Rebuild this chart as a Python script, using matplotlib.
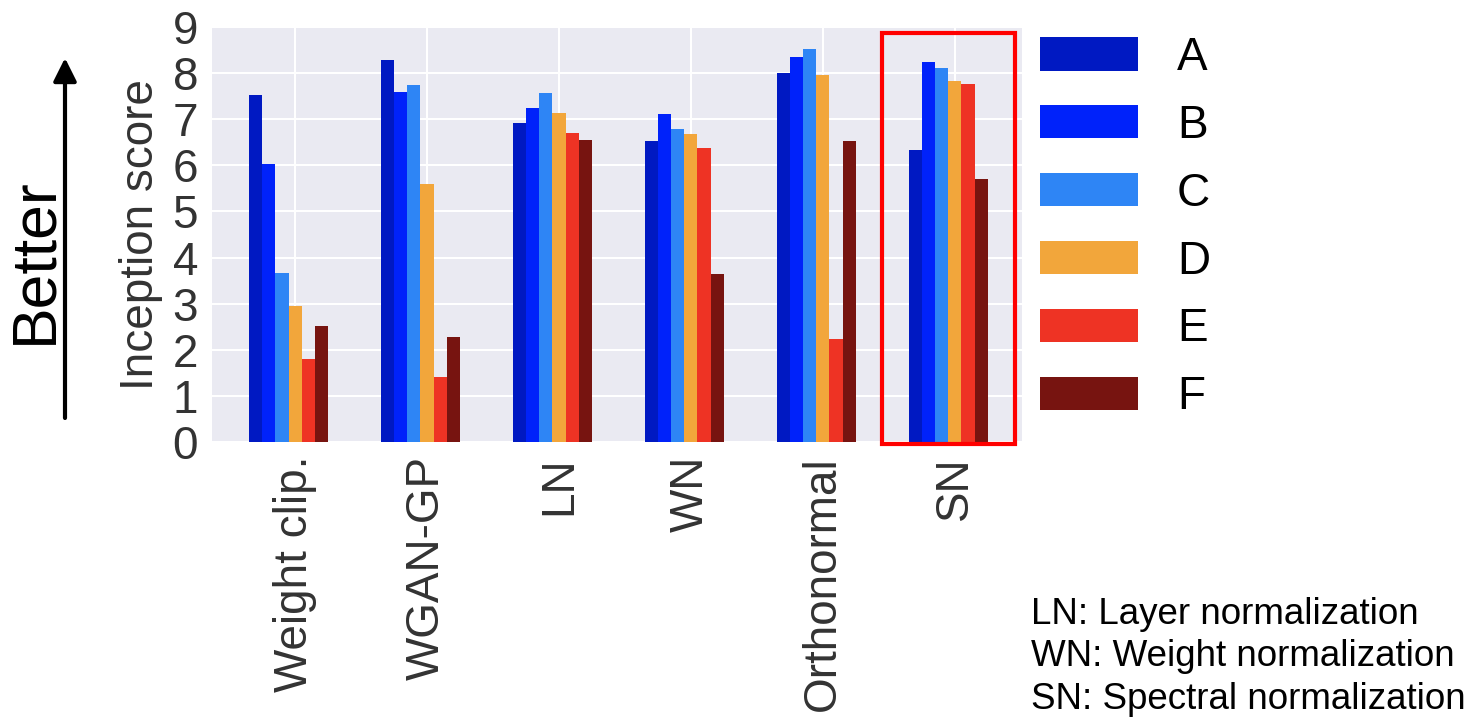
import numpy as np
import matplotlib
matplotlib.use('Agg')
import matplotlib.pyplot as plt
from matplotlib.patches import Rectangle

plt.rcParams['font.family'] = ['Liberation Sans', 'DejaVu Sans']

methods = ['Weight clip.', 'WGAN-GP', 'LN', 'WN', 'Orthonormal', 'SN']
settings = ['A', 'B', 'C', 'D', 'E', 'F']
# inception score per setting, one value per method
score_A = [7.53, 8.29, 6.91, 6.52, 8.00, 6.34]
score_B = [6.02, 7.58, 7.25, 7.12, 8.35, 8.24]
score_C = [3.67, 7.75, 7.57, 6.79, 8.53, 8.12]
score_D = [2.94, 5.60, 7.14, 6.69, 7.95, 7.83]
score_E = [1.81, 1.42, 6.70, 6.38, 2.24, 7.77]
score_F = [2.51, 2.27, 6.54, 3.65, 6.52, 5.70]
scores = [score_A, score_B, score_C, score_D, score_E, score_F]
colors = ['#0019C2', '#0022FA', '#2E85F5', '#F2A63B', '#EE3324', '#771410']

fig = plt.figure(figsize=(14.74, 7.2), dpi=100)
ax = fig.add_axes([212 / 1474, 1 - 442 / 720, 810 / 1474, 415 / 720])
ax.set_facecolor('#EAEAF2')
for s in ax.spines.values():
    s.set_visible(False)
ax.grid(True, color='white', linewidth=1.5)
ax.set_axisbelow(True)

x = np.arange(len(methods))
w = 0.1
for i, (name, vals) in enumerate(zip(settings, scores)):
    ax.bar(x + (i - 3) * w, vals, width=w, color=colors[i], linewidth=0, label=name)

ax.set_xlim(-0.63, 5.51)
ax.set_ylim(0, 9)
ax.set_yticks(range(10))
ax.set_xticks(x)
ax.set_xticklabels(methods, rotation=90)
ax.tick_params(axis='both', length=0, labelsize=33, labelcolor='#333333')
ax.tick_params(axis='y', pad=10)
ax.tick_params(axis='x', pad=10)
ax.set_ylabel('Inception score', fontsize=33, color='#333333')
ax.yaxis.set_label_coords(-0.06, 0.5)

fig.legend(loc='upper left', bbox_to_anchor=(1040 / 1474, 1 - 36 / 720),
           frameon=False, fontsize=33, handlelength=2.14, handleheight=0.74,
           handletextpad=0.85, labelspacing=0.52, borderpad=0, borderaxespad=0)

# highlight box around SN
fig.add_artist(Rectangle((882 / 1474, 1 - 444 / 720), 133 / 1474, 411 / 720,
                         transform=fig.transFigure, fill=False,
                         edgecolor='#FF0000', linewidth=3))

# "Better" arrow
ax.annotate('', xy=(65, 720 - 58), xytext=(65, 720 - 418),
            xycoords='figure pixels', textcoords='figure pixels',
            arrowprops=dict(arrowstyle='-|>', lw=3, color='black',
                            mutation_scale=35, shrinkA=0, shrinkB=0))
fig.text(35 / 1474, 1 - 261 / 720, 'Better', rotation=90, fontsize=45,
         ha='center', va='center')

fig.text(1031 / 1474, 1 - 597 / 720,
         'LN: Layer normalization\nWN: Weight normalization\nSN: Spectral normalization',
         fontsize=26.5, ha='left', va='top', linespacing=1.27)

fig.savefig('out.png', dpi=100)
